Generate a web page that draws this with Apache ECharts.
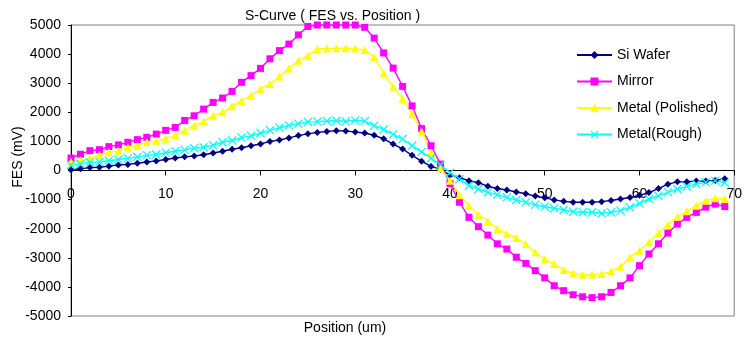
<!DOCTYPE html>
<html>
<head>
<meta charset="utf-8">
<script src="https://cdn.jsdelivr.net/npm/echarts@6/dist/echarts.min.js"></script>
<style>
  html, body { margin: 0; padding: 0; background: #fff; }
  #chart { width: 745px; height: 344px; }
</style>
</head>
<body>
<div id="chart"></div>
<script>
// position (um), one reading per step
var positions = [];
for (var p = 0; p < 70; p++) positions.push(p);

// FES (mV)
var siWafer = [30, 60, 100, 110, 150, 190, 210, 250, 290, 330,
  380, 430, 470, 500, 540, 600, 660, 730, 780, 850,
  910, 1000, 1050, 1120, 1200, 1260, 1310, 1340, 1370, 1360,
  1320, 1290, 1210, 1090, 910, 740, 520, 320, 140, 40,
  -160, -250, -350, -420, -540, -620, -670, -740, -800, -880,
  -940, -1010, -1060, -1090, -1090, -1090, -1070, -1030, -980, -930,
  -850, -760, -620, -470, -390, -385, -365, -360, -340, -285];

var mirror = [430, 560, 680, 715, 820, 880, 970, 1060, 1140, 1250,
  1380, 1480, 1720, 1880, 2110, 2340, 2490, 2720, 3030, 3260,
  3510, 3840, 4120, 4345, 4660, 4950, 5000, 5000, 5000, 5000,
  5000, 4920, 4550, 4040, 3520, 2890, 2220, 1440, 850, 220,
  -450, -1090, -1610, -1930, -2220, -2520, -2700, -2980, -3190, -3440,
  -3690, -3960, -4130, -4270, -4340, -4370, -4340, -4190, -3960, -3690,
  -3270, -2870, -2520, -2150, -1840, -1610, -1440, -1260, -1150, -1240];

var polished = [300, 350, 430, 530, 624, 681, 796, 853, 968, 1025,
  1095, 1205, 1368, 1550, 1690, 1883, 1998, 2204, 2398, 2570,
  2799, 2971, 3234, 3509, 3772, 3944, 4173, 4196, 4200, 4200,
  4190, 4140, 3900, 3330, 2880, 2457, 1940, 1350, 610, 80,
  -350, -850, -1209, -1518, -1747, -2010, -2182, -2320, -2525, -2811,
  -3041, -3213, -3419, -3532, -3580, -3570, -3556, -3465, -3305, -2982,
  -2755, -2467, -2158, -1862, -1587, -1402, -1209, -1037, -955, -979];

var rough = [180, 223, 280, 290, 337, 378, 418, 470, 520, 550,
  612, 663, 710, 767, 800, 870, 970, 1030, 1130, 1190,
  1280, 1380, 1470, 1550, 1610, 1670, 1680, 1700, 1710, 1690,
  1720, 1700, 1540, 1410, 1240, 1080, 850, 640, 420, 190,
  -80, -290, -522, -636, -750, -831, -922, -1014, -1093, -1175,
  -1244, -1299, -1357, -1415, -1436, -1436, -1470, -1436, -1380, -1264,
  -1127, -979, -865, -750, -636, -555, -464, -406, -350, -420];

var seriesNames = ['Si Wafer', 'Mirror', 'Metal (Polished)', 'Metal(Rough)'];

function pairs(vals) {
  return positions.map(function (x, i) { return [x, vals[i]]; });
}

var crossSymbol = 'path://M0,1L1,0L5,4L9,0L10,1L6,5L10,9L9,10L5,6L1,10L0,9L4,5Z';
var font = 'Liberation Sans, Arial, sans-serif';

var myChart = echarts.init(document.getElementById('chart'));

option = {
  animation: false,
  textStyle: { fontFamily: font },
  title: {
    text: 'S-Curve ( FES vs. Position )',
    left: 240,
    top: 4,
    textStyle: { fontSize: 14, fontWeight: 'normal', color: '#000', fontFamily: font }
  },
  legend: {
    orient: 'vertical',
    left: 571,
    top: 43,
    itemWidth: 35,
    itemHeight: 10,
    itemGap: 12.5,
    textStyle: { fontSize: 14, color: '#000' },
    data: seriesNames
  },
  grid: {
    left: 71, right: 5, top: 25, bottom: 28,
    show: true,
    borderColor: '#808080',
    borderWidth: 1
  },
  xAxis: {
    type: 'value',
    min: 0, max: 70, interval: 10,
    offset: -145.5,
    axisLine: { onZero: false, lineStyle: { color: '#000', width: 1 } },
    axisTick: { length: 5, lineStyle: { color: '#000' } },
    axisLabel: { fontSize: 14, color: '#000', margin: 17 },
    splitLine: { show: false }
  },
  yAxis: {
    type: 'value',
    min: -5000, max: 5000, interval: 1000,
    axisLine: { show: true, lineStyle: { color: '#000', width: 1 } },
    axisTick: { show: true, length: 3, lineStyle: { color: '#000' } },
    axisLabel: {
      fontSize: 14, color: '#000', margin: 10,
      formatter: function (v) { return String(v); }
    },
    splitLine: { show: false }
  },
  graphic: [
    {
      type: 'text', x: 345, y: 328,
      style: { text: 'Position (um)', font: '14px ' + font, fill: '#000', align: 'center', verticalAlign: 'middle' }
    },
    {
      type: 'text', x: 18, y: 157, rotation: Math.PI / 2,
      style: { text: 'FES (mV)', font: '14px ' + font, fill: '#000', align: 'center', verticalAlign: 'middle' }
    }
  ],
  series: [
    {
      name: seriesNames[0], type: 'line', data: pairs(siWafer),
      symbol: 'diamond', symbolSize: 7,
      lineStyle: { color: '#000080', width: 1.4 },
      itemStyle: { color: '#000080' }
    },
    {
      name: seriesNames[1], type: 'line', data: pairs(mirror),
      symbol: 'rect', symbolSize: 7,
      lineStyle: { color: '#FF00FF', width: 1.4 },
      itemStyle: { color: '#FF00FF' }
    },
    {
      name: seriesNames[2], type: 'line', data: pairs(polished),
      symbol: 'triangle', symbolSize: 8,
      lineStyle: { color: '#FFFF00', width: 1.4 },
      itemStyle: { color: '#FFFF00' }
    },
    {
      name: seriesNames[3], type: 'line', data: pairs(rough),
      symbol: crossSymbol, symbolSize: 9,
      lineStyle: { color: '#00FFFF', width: 1.4 },
      itemStyle: { color: '#00FFFF' }
    }
  ]
};

myChart.setOption(option);
window.addEventListener('resize', function () {
  if (myChart != null) myChart.resize();
});
</script>
</body>
</html>
